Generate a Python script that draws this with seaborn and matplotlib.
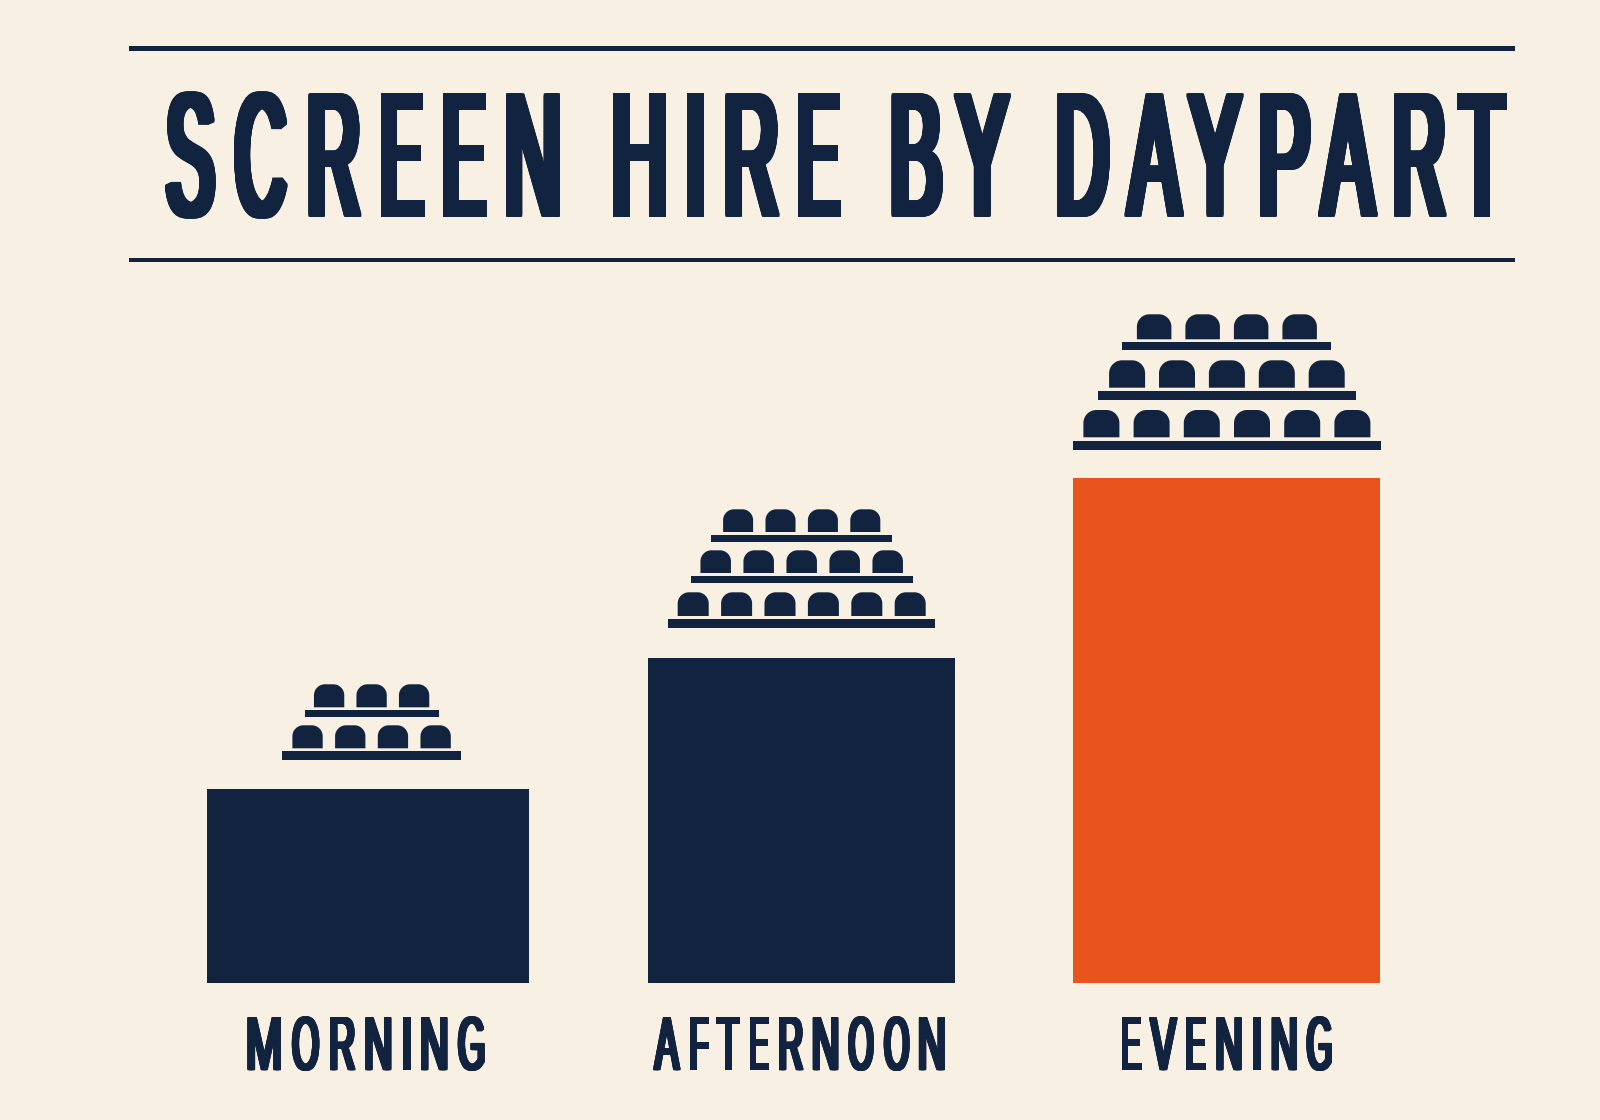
import matplotlib
matplotlib.use('Agg')
import matplotlib.pyplot as plt
import matplotlib.patheffects as pe
import pandas as pd
import seaborn as sns
from matplotlib.font_manager import FontProperties
from matplotlib.patches import PathPatch, Rectangle
from matplotlib.path import Path
from matplotlib.textpath import TextPath
from matplotlib.transforms import Affine2D

dayparts = ['MORNING', 'AFTERNOON', 'EVENING']
hire = [194.3, 325, 505.3]
seat_rows = {'MORNING': [3, 4], 'AFTERNOON': [4, 5, 6], 'EVENING': [4, 5, 6]}
title = 'SCREEN HIRE BY DAYPART'

BG = '#F8F0E2'
NAVY = '#12233F'
ORANGE = '#E8541C'
W, H = 1600, 1120
BASE_Y = 983.3
FONT = ['Liberation Sans Narrow', 'Liberation Sans', 'DejaVu Sans']

# bar placement in category units, one slot is 429.25 px
SLOT = 429.25
bar_width = [322 / SLOT, 307 / SLOT, 307 / SLOT]
bar_shift = [0, 4.25 / SLOT, 0]

# pictogram layout (px): centre, then per tier pitch, seat width, seat top,
# seat bottom, plinth half width, plinth top, plinth bottom
picto = {
    'MORNING': (371.6, [(42.5, 30.3, 684.3, 707.3, 67, 710, 717.3),
                        (42.7, 30.3, 725.3, 748.3, 89.3, 751.3, 759.7)]),
    'AFTERNOON': (801.7, [(42.4, 30, 509.3, 532, 90.5, 534.7, 541.7),
                          (43, 30.5, 550.3, 573, 111, 576, 583.3),
                          (43.4, 31, 592.3, 616, 133.6, 619, 627.7)]),
    'EVENING': (1226.9, [(48.5, 34.5, 314.3, 339.3, 104.5, 342.3, 350.3),
                         (49.9, 36, 360.3, 387.7, 128.7, 391, 400),
                         (50.2, 36, 410, 437.3, 154.1, 440.7, 450.3)]),
}

# ink edges of each letter (px), the condensed poster face is not installed
title_ink = [(165, 215.6), (234, 287.5), (308.6, 361.4), (381.3, 424.5), (443.3, 487), (506, 560), None,
             (612.8, 665.6), (686.5, 704), (725.5, 779.6), (798, 841), None,
             (891.7, 943), (953.6, 1011), None,
             (1057, 1110), (1124.5, 1184), (1186.4, 1243.7), (1260, 1311), (1318, 1377.7), (1394, 1446.6), (1457, 1506.7)]
label_ink = [
    [(247.4, 281), (291.8, 319.4), (330, 355.6), (365.3, 391.3), (402.6, 410.7), (421, 447.4), (457.7, 484.7)],
    [(653, 680.6), (689.8, 709), (716.3, 740.3), (749.5, 769.4), (779, 803.6), (812.8, 838.3), (848, 874), (883.7, 909.7), (918.9, 944.9)],
    [(1121.7, 1141.7), (1149, 1177.7), (1186.3, 1206.3), (1216.3, 1241.7), (1253, 1261), (1271.7, 1297), (1306.3, 1332)],
]


class PosterLetters(pe.AbstractPathEffect):
    # redraws a text letter by letter, squeezed, tracked and thickened like the poster face
    def __init__(self, string, ink, baseline, cap, smear_x, smear_y):
        super().__init__()
        self.string, self.ink, self.baseline = string, ink, baseline
        self.cap, self.smear_x, self.smear_y = cap, smear_x, smear_y

    def draw_path(self, renderer, gc, tpath, affine, rgbFace=None):
        prop = FontProperties(family=FONT, weight='normal')
        sy = (self.cap - self.smear_y) / TextPath((0, 0), 'E', size=100, prop=prop).get_extents().height
        gc0 = renderer.new_gc()
        gc0.copy_properties(gc)
        gc0.set_linewidth(0)
        nx = int(self.smear_x) + 1
        ny = int(self.smear_y) + 1
        for ch, ink in zip(self.string, self.ink):
            if ink is None:
                continue
            glyph = TextPath((0, 0), ch, size=100, prop=prop)
            box = glyph.get_extents()
            sx = (ink[1] - ink[0] - self.smear_x) / box.width
            for i in range(nx + 1):
                for j in range(ny + 1):
                    x = ink[0] + self.smear_x * i / nx
                    y = H - self.baseline + self.smear_y * j / ny
                    t = Affine2D().translate(-box.x0, 0).scale(sx, sy).translate(x, y)
                    renderer.draw_path(gc0, glyph, t, rgbFace)
        gc0.restore()


def seat(ax, x, top, bottom, w):
    r = w * 0.36
    c = r * 0.45
    verts = [(x, bottom), (x, top + r), (x, top + c), (x + c, top), (x + r, top), (x + w - r, top),
             (x + w - c, top), (x + w, top + c), (x + w, top + r), (x + w, bottom), (x, bottom)]
    codes = [Path.MOVETO, Path.LINETO, Path.CURVE4, Path.CURVE4, Path.CURVE4, Path.LINETO,
             Path.CURVE4, Path.CURVE4, Path.CURVE4, Path.LINETO, Path.CLOSEPOLY]
    ax.add_patch(PathPatch(Path(verts, codes), fc=NAVY, ec='none'))


sns.set_theme(style='white', rc={'figure.facecolor': BG, 'axes.facecolor': 'none'})
plt.rcParams['font.family'] = FONT

fig = plt.figure(figsize=(W / 100, H / 100), dpi=100)
df = pd.DataFrame({'daypart': dayparts, 'hire': hire})

# bars, y scale is one unit per px above the baseline
ax = fig.add_axes([0, (H - BASE_Y) / H, 1, (BASE_Y - 400) / H])
sns.barplot(data=df, x='daypart', y='hire', hue='daypart', dodge=False,
            palette=[NAVY, NAVY, ORANGE], legend=False, ax=ax, saturation=1)
for i, bar in enumerate(ax.patches[:3]):
    bar.set_width(bar_width[i])
    bar.set_x(i + bar_shift[i] - bar_width[i] / 2)
    bar.set_linewidth(0)
ax.set_xlim(-368 / SLOT, (W - 368) / SLOT)
ax.set_ylim(0, BASE_Y - 400)
ax.set_xlabel('')
ax.set_ylabel('')
ax.set_yticks([])
ax.tick_params(axis='x', length=0, pad=24, labelsize=42, colors=NAVY)
sns.despine(ax=ax, left=True, bottom=True, top=True, right=True)

# overlay in px for title rules and seats
over = fig.add_axes([0, 0, 1, 1], facecolor='none')
over.set_xlim(0, W)
over.set_ylim(H, 0)
over.axis('off')

for y0, y1 in [(46, 50.6), (257.8, 262)]:
    over.add_patch(Rectangle((128.7, y0), 1515 - 128.7, y1 - y0, fc=NAVY, ec='none'))

title_txt = over.text(835, 155, title, fontsize=78, color=NAVY, ha='center', va='center')
title_txt.set_path_effects([PosterLetters(title, title_ink, 216.8, 123.5, 9.5, 3)])

for name in dayparts:
    cx, tiers = picto[name]
    for n, (pitch, w, top, bottom, half, p0, p1) in zip(seat_rows[name], tiers):
        span = pitch * (n - 1) + w
        for k in range(n):
            seat(over, cx - span / 2 + k * pitch, top, bottom, w)
        over.add_patch(Rectangle((cx - half, p0), 2 * half, p1 - p0, fc=NAVY, ec='none'))

for lab, name, ink in zip(ax.get_xticklabels(), dayparts, label_ink):
    lab.set_path_effects([PosterLetters(name, ink, 1070.2, 53.2, 4, 1.2)])

fig.savefig('out.png', dpi=100, facecolor=BG)
